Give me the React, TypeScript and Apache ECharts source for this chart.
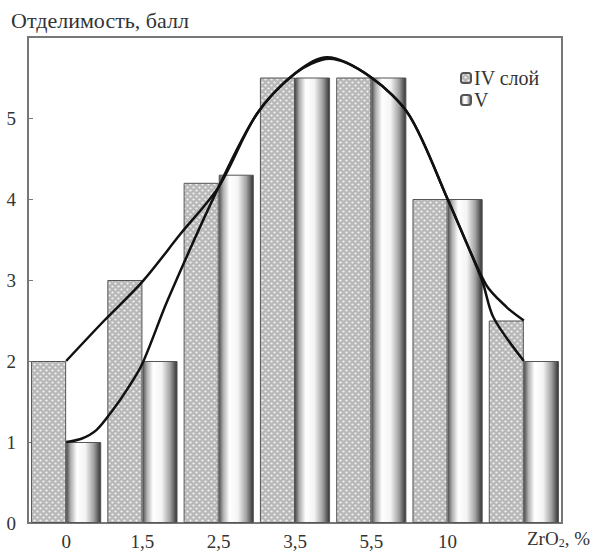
import React, { useEffect, useRef } from "react";
import * as echarts from "echarts";

const categories = ["0", "1,5", "2,5", "3,5", "5,5", "10", ""];
const seriesIV = [2, 3, 4.2, 5.5, 5.5, 4, 2.5];
const seriesV = [1, 2, 4.3, 5.5, 5.5, 4, 2];
const yTicks = [0, 1, 2, 3, 4, 5];

// fitted curves: [position along category axis, value]
const curveIV: [number, number][] = [
  [0, 2.0], [0.5, 2.5], [1.0, 2.98], [1.5, 3.57], [2.0, 4.15], [2.5, 5.05],
  [3.0, 5.55], [3.42, 5.75], [4.0, 5.5], [4.5, 5.03], [5.0, 4.0], [5.5, 2.95],
  [5.78, 2.66], [6.0, 2.5],
];
const curveV: [number, number][] = [
  [0, 1.0], [0.2, 1.04], [0.4, 1.15], [0.6, 1.38], [0.8, 1.65], [1.0, 1.97],
  [1.33, 2.75], [2.0, 4.15], [2.5, 5.05], [3.0, 5.55], [3.45, 5.73], [4.0, 5.5],
  [4.5, 5.03], [5.0, 4.0], [5.45, 3.0], [5.6, 2.54], [6.0, 2.0],
];

const SERIF = "'Liberation Serif', 'DejaVu Serif', serif";

function makePattern(): HTMLCanvasElement {
  const c = document.createElement("canvas");
  c.width = 6;
  c.height = 6;
  const ctx = c.getContext("2d")!;
  ctx.fillStyle = "#b8b8b8";
  ctx.fillRect(0, 0, 6, 6);
  ctx.fillStyle = "#f2f2f2";
  ctx.beginPath();
  ctx.ellipse(1.5, 1.5, 1.2, 0.9, 0, 0, Math.PI * 2);
  ctx.fill();
  ctx.beginPath();
  ctx.ellipse(4.5, 4.5, 1.2, 0.9, 0, 0, Math.PI * 2);
  ctx.fill();
  return c;
}

export default function App() {
  const ref = useRef<HTMLDivElement>(null);
  useEffect(() => {
    const chart = echarts.init(ref.current!, null, { renderer: "svg" });
    const pattern = makePattern();
    const cyl = new echarts.graphic.LinearGradient(0, 0, 1, 0, [
      { offset: 0, color: "#555" },
      { offset: 0.12, color: "#b0b0b0" },
      { offset: 0.3, color: "#ffffff" },
      { offset: 0.55, color: "#f4f4f4" },
      { offset: 0.8, color: "#a0a0a0" },
      { offset: 1, color: "#333" },
    ]);
    chart.setOption({
      animation: false,
      backgroundColor: "#fff",
      textStyle: { fontFamily: SERIF },
      title: {
        text: "Отделимость, балл",
        left: 6,
        top: 4,
        textStyle: { fontFamily: SERIF, fontSize: 22, fontWeight: "normal", color: "#333" },
      },
      legend: {
        orient: "vertical",
        left: 455,
        top: 63,
        itemWidth: 10,
        itemHeight: 10,
        itemGap: 2,
        data: ["IV слой", "V"],
        textStyle: { fontFamily: SERIF, fontSize: 20, color: "#333", padding: [0, 0, 0, -2] },
      },
      grid: {
        left: 28,
        right: 29,
        top: 37,
        bottom: 29,
        show: true,
        borderColor: "#777",
        borderWidth: 2,
        containLabel: false,
      },
      xAxis: [
        {
          type: "category",
          data: categories,
          axisTick: { show: false },
          axisLine: { lineStyle: { color: "#777", width: 2 } },
          axisLabel: { fontFamily: SERIF, fontSize: 19, color: "#333", margin: 9 },
        },
        {
          type: "value",
          min: -0.5,
          max: 6.5,
          show: false,
        },
      ],
      yAxis: {
        type: "value",
        min: 0,
        max: 6,
        interval: 1,
        axisLine: { show: true, onZero: false, lineStyle: { color: "#777", width: 2 } },
        axisTick: { show: true, inside: true, length: 5, lineStyle: { color: "#777" } },
        splitLine: { show: false },
        axisLabel: {
          fontFamily: SERIF,
          fontSize: 19,
          color: "#333",
          margin: 12,
          formatter: (v: number) => (yTicks.includes(v) ? String(v) : ""),
        },
      },
      series: [
        {
          name: "IV слой",
          type: "bar",
          data: seriesIV,
          barGap: "0%",
          barCategoryGap: "8%",
          itemStyle: {
            color: { image: pattern, repeat: "repeat" },
            borderColor: "#555",
            borderWidth: 1,
          },
        },
        {
          name: "V",
          type: "bar",
          data: seriesV,
          itemStyle: { color: cyl, borderColor: "#555", borderWidth: 1 },
        },
        {
          name: "curveIV",
          type: "line",
          xAxisIndex: 1,
          data: curveIV,
          smooth: 0.3,
          showSymbol: false,
          symbol: "none",
          lineStyle: { color: "#111", width: 2.5 },
          z: 5,
        },
        {
          name: "curveV",
          type: "line",
          xAxisIndex: 1,
          data: curveV,
          smooth: 0.3,
          showSymbol: false,
          symbol: "none",
          lineStyle: { color: "#111", width: 2.5 },
          z: 5,
        },
      ],
      graphic: [
        {
          type: "text",
          right: 1,
          top: 529,
          style: {
            text: "{a|ZrO}{s|2}{a|, %}",
            rich: {
              a: { fontFamily: SERIF, fontSize: 19, fill: "#333" },
              s: { fontFamily: SERIF, fontSize: 12, fill: "#333", verticalAlign: "bottom", padding: [9, 0, 0, 0] },
            },
          },
        },
      ],
    });
    return () => chart.dispose();
  }, []);
  return (
    <div
      ref={ref}
      style={{ position: "absolute", left: 0, top: 0, width: 591, height: 552 }}
    />
  );
}
